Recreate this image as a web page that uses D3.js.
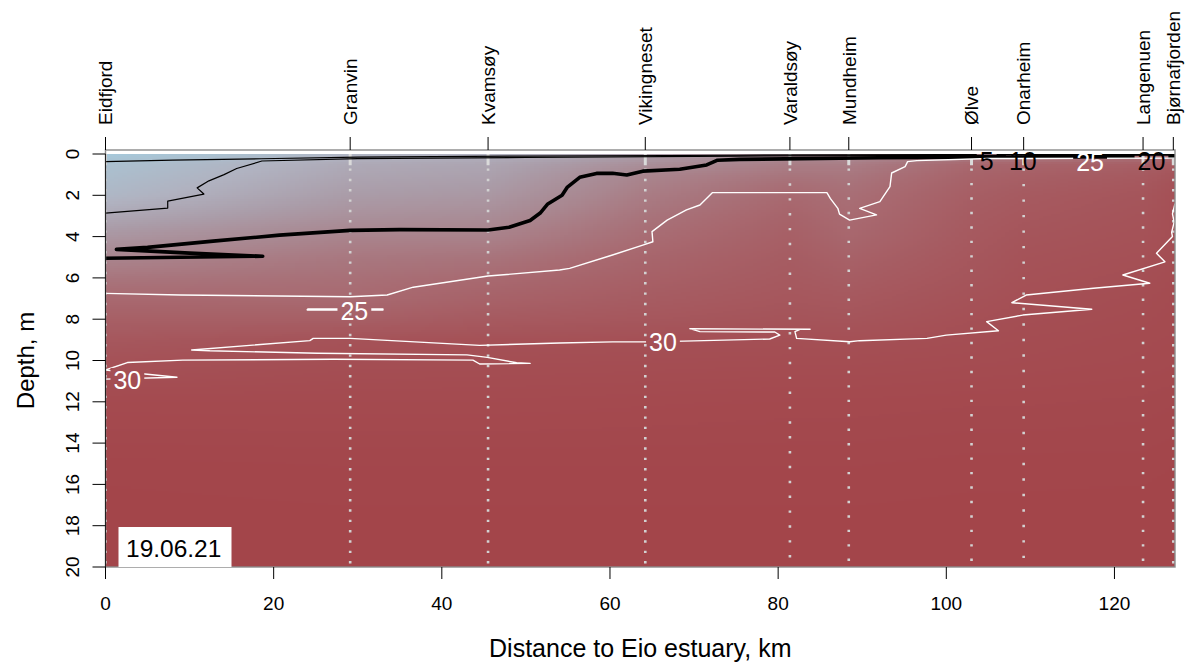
<!DOCTYPE html>
<html>
<head>
<meta charset="utf-8">
<script src="https://cdn.jsdelivr.net/npm/d3@7"></script>
<style>
  body { margin: 0; background: #fff; }
  svg { display: block; }
  text { font-family: "Liberation Sans", Arial, sans-serif; }
</style>
</head>
<body>
<svg id="chart" width="1191" height="669"></svg>
<script>
// ---- Stations along the fjord section ----
const stationNames = ["Eidfjord", "Granvin", "Kvamsøy", "Vikingneset", "Varaldsøy",
                      "Mundheim", "Ølve", "Onarheim", "Langenuen", "Bjørnafjorden"];
const stationKm = [0, 29.1, 45.5, 64.2, 81.4, 88.4, 103.0, 109.2, 123.4, 127.0];
// vertical spacing of CTD samples at each station, m
const sampleSpacing = [0.5, 0.5, 0.5, 0.5, 0.72, 0.7, 0.7, 0.75, 0.7, 0.5];

// ---- Salinity profiles (one row per station) ----
const profileDepths = [0, 0.5, 1, 1.5, 2, 3, 4, 5, 6, 7, 8, 9, 10, 12, 15, 20];
const salinity = [
  [2.0, 5.5, 6.5, 7.5, 8.5, 12.5, 16.5, 20.0, 23.0, 25.3, 27.0, 28.5, 29.6, 31.0, 31.8, 32.3],
  [9.0, 12.0, 13.0, 14.0, 15.0, 17.5, 20.5, 22.5, 24.0, 25.1, 27.0, 29.5, 30.2, 31.0, 31.7, 32.2],
  [10.0, 13.0, 14.0, 15.0, 16.0, 18.5, 20.8, 23.2, 25.1, 26.5, 28.0, 29.7, 30.3, 31.0, 31.7, 32.2],
  [14.0, 18.0, 20.2, 21.0, 21.8, 23.3, 24.6, 25.8, 26.8, 27.7, 28.6, 29.9, 30.4, 31.1, 31.7, 32.2],
  [18.0, 21.5, 23.0, 24.3, 25.1, 26.2, 27.0, 27.6, 28.1, 28.6, 29.2, 30.05, 30.5, 31.2, 31.7, 32.2],
  [18.0, 21.5, 22.8, 23.6, 24.2, 24.9, 25.6, 26.6, 27.5, 28.3, 29.0, 29.95, 30.5, 31.2, 31.7, 32.2],
  [20.0, 25.5, 26.3, 26.8, 27.2, 27.8, 28.2, 28.6, 29.0, 29.5, 29.95, 30.4, 30.7, 31.3, 31.8, 32.2],
  [20.0, 26.0, 27.0, 27.5, 28.0, 28.5, 29.0, 29.4, 29.7, 30.0, 30.3, 30.6, 30.8, 31.3, 31.8, 32.2],
  [22.0, 27.0, 28.0, 28.5, 28.9, 29.3, 29.6, 29.9, 30.2, 30.5, 30.7, 30.9, 31.0, 31.4, 31.8, 32.3],
  [22.0, 28.0, 29.0, 29.5, 29.8, 30.0, 30.2, 30.4, 30.6, 30.8, 30.9, 31.0, 31.1, 31.5, 31.9, 32.3]
];

// ---- Salinity colour key ----
const colourStops = [2, 6, 10, 15, 20, 25, 28, 32];
const colourRange = ["#a6c9db", "#abbfce", "#b0b2c0", "#aa9ca8", "#a9868f", "#a86a71", "#a65a60", "#a3454a"];

// ---- Isohalines, [km, depth m] ----
const contour5 = [[0, 0.37], [8, 0.3], [18.5, 0.23], [30, 0.15], [50, 0.1], [75, 0.06], [100, 0.03], [127.2, 0.02]];
const contour10 = [[0, 2.86], [7.4, 2.62], [7.4, 2.28], [11.7, 1.94], [10.9, 1.64], [12.3, 1.3], [14.1, 1.0],
  [15.6, 0.7], [18.6, 0.34], [30, 0.22], [50, 0.17], [75, 0.1], [100, 0.07], [127.2, 0.06]];
const contour20 = [[0, 5.05], [18.7, 4.95], [10, 4.8], [1.3, 4.62], [5, 4.52], [12.8, 4.22], [20.7, 3.93],
  [29.1, 3.7], [35, 3.66], [45.5, 3.68], [48, 3.55], [50.5, 3.22], [51.7, 2.86], [52.6, 2.42], [54.3, 2.0],
  [54.9, 1.62], [56.4, 1.13], [58.4, 0.94], [60.3, 0.93], [62.0, 1.02], [63.9, 0.83], [68.3, 0.74],
  [71.5, 0.53], [72.8, 0.3], [75.4, 0.26], [92, 0.18], [110, 0.14], [127.2, 0.13]];
const contour25 = [[0, 6.75], [8.9, 6.83], [29.1, 6.91], [33.5, 6.83], [36.6, 6.45], [45.5, 5.91], [54.0, 5.62],
  [55.2, 5.54], [60.3, 4.89], [63.9, 4.41], [65.1, 4.25], [65.0, 3.76], [66.8, 3.2], [69.1, 2.71],
  [70.7, 2.47], [71.9, 1.99], [72.2, 1.87], [85.8, 1.87], [86.2, 2.15], [87.1, 2.63], [87.3, 2.91],
  [88.5, 3.2], [91.7, 2.95], [89.7, 2.63], [92.1, 2.31], [93.3, 1.58], [93.5, 0.92], [95.1, 0.61],
  [95.4, 0.37], [96.5, 0.32], [105, 0.22], [127.2, 0.2]];
const contour25Patch = [[24, 7.5], [33, 7.5], [33, 7.56], [24, 7.56], [24, 7.5]];
const contour30 = [[127.2, 2.4], [126.9, 2.9], [127.1, 3.3], [126.8, 3.8], [126.9, 4.0], [125.0, 4.81],
  [126.0, 5.22], [121.0, 5.86], [124.2, 6.26], [117.5, 6.5], [109.5, 6.83], [107.8, 7.2], [117.3, 7.52],
  [109.1, 7.8], [104.8, 8.12], [106.2, 8.56], [100.0, 8.77], [97.7, 8.93], [89.7, 9.04], [88.5, 9.09],
  [82.2, 8.93], [82.0, 8.6], [82.6, 8.49], [83.8, 8.49], [69.5, 8.46], [70.7, 8.6], [79.6, 8.62],
  [80.2, 8.77], [79.0, 8.96], [68.8, 9.06], [64.8, 9.1], [60.3, 9.1], [54.0, 9.15], [44.5, 9.27],
  [29.1, 8.93], [24.7, 8.93], [24.3, 9.04], [10.25, 9.49], [12.4, 9.53], [25.2, 9.65], [43.0, 9.73],
  [45.4, 9.85], [48.9, 10.11], [50.5, 10.14], [44.5, 10.17], [43.7, 9.98], [27.1, 9.94], [9.2, 9.98],
  [2.6, 10.1], [0, 10.46], [8.5, 10.81], [0, 10.9]];

// ---- Isohaline labels ----
const labelText  = ["5", "10", "25", "20", "25", "30", "30"];
const labelLevel = [5, 10, 25, 20, 25, 30, 30];
const labelKm    = [104.8, 109.1, 117.1, 124.4, 29.6, 66.3, 2.6];
const labelDepth = [0.34, 0.34, 0.38, 0.36, 7.62, 9.1, 10.94];

// ---- Axes ----
const xTicks = [0, 20, 40, 60, 80, 100, 120];
const yTicks = [0, 2, 4, 6, 8, 10, 12, 14, 16, 18, 20];
const surveyDate = "19.06.21";

// ------------------------------------------------------------------
const svg = d3.select("#chart");
const x = d3.scaleLinear().domain([0, 127.2]).range([105.5, 1175]);
const y = d3.scaleLinear().domain([0, 20]).range([154, 567]);
const boxTop = 150;
const colour = d3.scaleLinear().domain(colourStops).range(colourRange)
  .interpolate(d3.interpolateRgb).clamp(true);

const contourLines = [
  { level: 5, pts: contour5 },
  { level: 10, pts: contour10 },
  { level: 20, pts: contour20 },
  { level: 25, pts: contour25 },
  { level: 25, pts: contour25Patch },
  { level: 30, pts: contour30 }
];
const lineStyle = {
  5: { stroke: "#000", width: 1.2 },
  10: { stroke: "#000", width: 1.2 },
  20: { stroke: "#000", width: 3.6 },
  25: { stroke: "#fff", width: 1.4 },
  30: { stroke: "#fff", width: 1.4 }
};

const defs = svg.append("defs");
defs.append("clipPath").attr("id", "plotClip").append("rect")
  .attr("x", x(0)).attr("y", y(0))
  .attr("width", x(127.2) - x(0)).attr("height", y(20) - y(0));

// ---- salinity field, interpolated between station profiles ----
const profileScales = salinity.map(p => d3.scaleLinear().domain(profileDepths).range(p).clamp(true));
function salinityAt(km, d) {
  const vals = profileScales.map(s => s(d));
  return d3.scaleLinear().domain(stationKm).range(vals).clamp(true)(km);
}
const kmStep = 0.5, dStep = 0.1;
const cells = [];
for (const km of d3.range(0, 127.2, kmStep)) {
  for (const d of d3.range(0, 20, dStep)) {
    cells.push({ km, d, s: salinityAt(km + kmStep / 2, d + dStep / 2) });
  }
}
svg.append("g").attr("clip-path", "url(#plotClip)").attr("shape-rendering", "crispEdges")
  .selectAll("rect").data(cells).join("rect")
  .attr("x", c => x(c.km))
  .attr("y", c => y(c.d))
  .attr("width", c => x(c.km + kmStep) - x(c.km) + 0.6)
  .attr("height", c => y(c.d + dStep) - y(c.d) + 0.6)
  .attr("fill", c => colour(c.s));

// ---- station sample columns ----
const stations = stationNames.map((name, i) => ({ name, km: stationKm[i], step: sampleSpacing[i] }));
const stG = svg.append("g").attr("clip-path", "url(#plotClip)");
stG.selectAll("line.samples").data(stations).join("line")
  .attr("class", "samples")
  .attr("x1", s => x(s.km)).attr("x2", s => x(s.km))
  .attr("y1", y(0.7)).attr("y2", y(20))
  .attr("stroke", "#d2d2d2").attr("stroke-width", 2.6)
  .attr("stroke-dasharray", s => `2.4 ${(y(s.step) - y(0) - 2.4).toFixed(2)}`);
stG.selectAll("line.top").data(stations).join("line")
  .attr("class", "top")
  .attr("x1", s => x(s.km)).attr("x2", s => x(s.km))
  .attr("y1", y(0)).attr("y2", y(0.55))
  .attr("stroke", "#dadada").attr("stroke-width", 3);

// ---- isohalines with gaps under their labels ----
const levels = [...new Set(contourLines.map(c => c.level))];
const masks = {};
levels.forEach(lv => {
  const m = defs.append("mask").attr("id", "gap" + lv).attr("maskUnits", "userSpaceOnUse")
    .attr("x", 0).attr("y", 0).attr("width", 1191).attr("height", 669);
  m.append("rect").attr("x", 0).attr("y", 0).attr("width", 1191).attr("height", 669).attr("fill", "#fff");
  masks[lv] = m;
});
const line = d3.line().x(p => x(p[0])).y(p => y(p[1]));
const cG = svg.append("g").attr("clip-path", "url(#plotClip)");
contourLines.forEach(c => {
  cG.append("g").attr("mask", `url(#gap${c.level})`)
    .append("path")
    .attr("d", line(c.pts))
    .attr("fill", "none")
    .attr("stroke", lineStyle[c.level].stroke)
    .attr("stroke-width", lineStyle[c.level].width)
    .attr("stroke-linejoin", "round");
});

const labels = labelText.map((t, i) => ({ t, level: labelLevel[i], km: labelKm[i], d: labelDepth[i] }));
const lblG = svg.append("g");
lblG.selectAll("text").data(labels).join("text")
  .attr("x", l => x(l.km)).attr("y", l => y(l.d))
  .attr("dy", "0.36em")
  .attr("text-anchor", "middle")
  .attr("font-size", 25)
  .attr("fill", l => lineStyle[l.level].stroke)
  .text(l => l.t)
  .each(function (l) {
    const b = this.getBBox();
    masks[l.level].append("rect")
      .attr("x", b.x - 3).attr("y", b.y + 2)
      .attr("width", b.width + 6).attr("height", b.height - 4)
      .attr("fill", "#000");
  });

// ---- frame ----
svg.append("rect")
  .attr("x", x(0)).attr("y", boxTop)
  .attr("width", x(127.2) - x(0)).attr("height", y(20) - boxTop)
  .attr("fill", "none").attr("stroke", "#8a8a8a").attr("stroke-width", 1.4);
svg.append("line")
  .attr("x1", x(0)).attr("x2", x(0)).attr("y1", y(0)).attr("y2", y(20))
  .attr("stroke", "#222").attr("stroke-width", 1);

// ---- bottom axis ----
const xAxis = svg.append("g");
xAxis.selectAll("line").data(xTicks).join("line")
  .attr("x1", d => x(d)).attr("x2", d => x(d))
  .attr("y1", y(20)).attr("y2", y(20) + 12)
  .attr("stroke", "#000");
xAxis.selectAll("text").data(xTicks).join("text")
  .attr("x", d => x(d)).attr("y", 610)
  .attr("text-anchor", "middle").attr("font-size", 19)
  .text(d => d);
svg.append("text")
  .attr("x", (x(0) + x(127.2)) / 2).attr("y", 657)
  .attr("text-anchor", "middle").attr("font-size", 25)
  .text("Distance to Eio estuary, km");

// ---- left axis ----
const yAxis = svg.append("g");
yAxis.selectAll("line").data(yTicks).join("line")
  .attr("x1", x(0) - 13).attr("x2", x(0))
  .attr("y1", d => y(d)).attr("y2", d => y(d))
  .attr("stroke", "#000");
yAxis.selectAll("text").data(yTicks).join("text")
  .attr("transform", d => `translate(72,${y(d)}) rotate(-90)`)
  .attr("dy", "0.36em")
  .attr("text-anchor", "middle").attr("font-size", 19)
  .text(d => d);
svg.append("text")
  .attr("transform", `translate(25,${(y(0) + y(20)) / 2}) rotate(-90)`)
  .attr("dy", "0.36em")
  .attr("text-anchor", "middle").attr("font-size", 24)
  .text("Depth, m");

// ---- station axis on top ----
const topAxis = svg.append("g");
topAxis.selectAll("line").data(stations).join("line")
  .attr("x1", s => x(s.km)).attr("x2", s => x(s.km))
  .attr("y1", boxTop - 13).attr("y2", boxTop)
  .attr("stroke", "#000");
topAxis.selectAll("text").data(stations).join("text")
  .attr("transform", s => `translate(${x(s.km)},125) rotate(-90)`)
  .attr("dy", "0.36em")
  .attr("text-anchor", "start").attr("font-size", 19)
  .text(s => s.name);

// ---- survey date ----
const dateG = svg.append("g");
dateG.append("rect")
  .attr("x", 118.5).attr("y", 527).attr("width", 113).attr("height", y(20) - 527)
  .attr("fill", "#fff");
dateG.append("text")
  .attr("x", 126).attr("y", 557).attr("font-size", 24.5)
  .text(surveyDate);
</script>
</body>
</html>
